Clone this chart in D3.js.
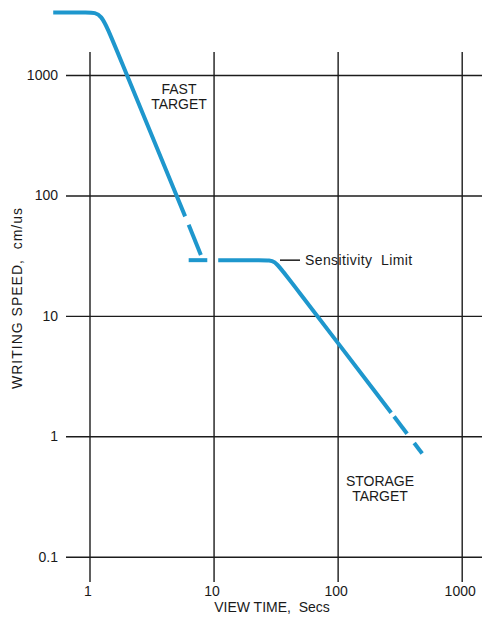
<!DOCTYPE html>
<html>
<head>
<meta charset="utf-8">
<script src="https://cdn.jsdelivr.net/npm/d3@7"></script>
<style>
  html, body { margin: 0; padding: 0; background: #ffffff; }
  svg { display: block; }
  text { font-family: "Liberation Sans", Arial, Helvetica, sans-serif; fill: #1a1a1a; }
</style>
</head>
<body>
<svg id="chart" width="482" height="618"></svg>
<script>
// ---- data ----
const xTickValues = [1, 10, 100, 1000];
const xTickLabels = ["1", "10", "100", "1000"];
const yTickValues = [0.1, 1, 10, 100, 1000];
const yTickLabels = ["0.1", "1", "10", "100", "1000"];

// fast target curve (view time s, writing speed cm/us)
const fastSolid = [[0.51, 3300], [1.0, 3300], [1.24, 3300], [1.55, 1900], [5.9, 67]];
const fastDash = [[6.3, 57], [7.9, 32]];
// sensitivity limit plateau + storage target curve
const limitDash = [[6.3, 29], [8.9, 29]];
const storageSolid = [[10.9, 29], [26, 29], [31, 29], [37.5, 22.5], [270, 1.57]];
const storageDash1 = [[285, 1.46], [363, 1.05]];
const storageDash2 = [[414, 0.88], [480, 0.72]];

const segments = [fastSolid, fastDash, limitDash, storageSolid, storageDash1, storageDash2];

const xTitle = "VIEW TIME,  Secs";
const yTitle = "WRITING SPEED,  cm/us";
const limitLabel = "Sensitivity  Limit";
const fastLabel = ["FAST", "TARGET"];
const storageLabel = ["STORAGE", "TARGET"];

// ---- layout ----
const W = 482, H = 618;
const svg = d3.select("#chart");
const x = d3.scaleLog().domain([1, 1000]).range([89.5, 461.7]);
const y = d3.scaleLog().domain([0.1, 1000]).range([556.7, 75]);
const gridLeft = 66, gridRight = 482, gridTop = 52, gridBottom = 582;
const lineColor = "#1e97cd";
const FONT = "'Liberation Sans', Arial, Helvetica, sans-serif";

// y axis / horizontal gridlines
const yAxis = svg.append("g")
  .attr("transform", `translate(${gridLeft},0)`)
  .call(d3.axisLeft(y)
    .tickValues(yTickValues)
    .tickFormat((d, i) => yTickLabels[i])
    .tickSize(-(gridRight - gridLeft))
    .tickPadding(8));
yAxis.select(".domain").remove();
yAxis.selectAll(".tick line").attr("stroke", "#1c1c1c").attr("stroke-width", 1.4);
yAxis.selectAll(".tick text").attr("font-size", 14).attr("fill", "#1a1a1a")
  .attr("font-family", FONT);

// x axis / vertical gridlines
const xAxis = svg.append("g")
  .attr("transform", `translate(0,${gridBottom})`)
  .call(d3.axisBottom(x)
    .tickValues(xTickValues)
    .tickFormat((d, i) => xTickLabels[i])
    .tickSize(-(gridBottom - gridTop))
    .tickPadding(4));
xAxis.select(".domain").remove();
xAxis.selectAll(".tick line").attr("stroke", "#1c1c1c").attr("stroke-width", 1.4);
xAxis.selectAll(".tick text").attr("font-size", 14).attr("fill", "#1a1a1a")
  .attr("dx", -2)
  .attr("font-family", FONT);

// curves
const line = d3.line()
  .x(d => x(d[0]))
  .y(d => y(d[1]))
  .curve(d3.curveBasis);

svg.append("g").selectAll("path")
  .data(segments)
  .join("path")
  .attr("d", line)
  .attr("fill", "none")
  .attr("stroke", lineColor)
  .attr("stroke-width", 4)
  .attr("stroke-linecap", "butt")
  .attr("stroke-linejoin", "round");

// sensitivity limit label
const ly = y(29);
svg.append("line")
  .attr("x1", 280).attr("x2", 300)
  .attr("y1", ly).attr("y2", ly)
  .attr("stroke", "#1a1a1a").attr("stroke-width", 1.5);
svg.append("text")
  .attr("x", 305).attr("y", ly + 5)
  .attr("font-size", 14)
  .attr("letter-spacing", 0.4)
  .style("white-space", "pre")
  .text(limitLabel);

// region labels
svg.append("g").selectAll("text")
  .data(fastLabel)
  .join("text")
  .attr("x", 179)
  .attr("y", (d, i) => 94 + i * 15)
  .attr("text-anchor", "middle")
  .attr("font-size", 14)
  .text(d => d);

svg.append("g").selectAll("text")
  .data(storageLabel)
  .join("text")
  .attr("x", 380)
  .attr("y", (d, i) => 486 + i * 15)
  .attr("text-anchor", "middle")
  .attr("font-size", 14)
  .text(d => d);

// axis titles
svg.append("text")
  .attr("x", 272).attr("y", 612)
  .attr("text-anchor", "middle")
  .attr("font-size", 14)
  .style("white-space", "pre")
  .text(xTitle);

svg.append("text")
  .attr("transform", "translate(22,298) rotate(-90)")
  .attr("text-anchor", "middle")
  .attr("font-size", 14)
  .attr("letter-spacing", 1)
  .style("white-space", "pre")
  .text(yTitle);
</script>
</body>
</html>
